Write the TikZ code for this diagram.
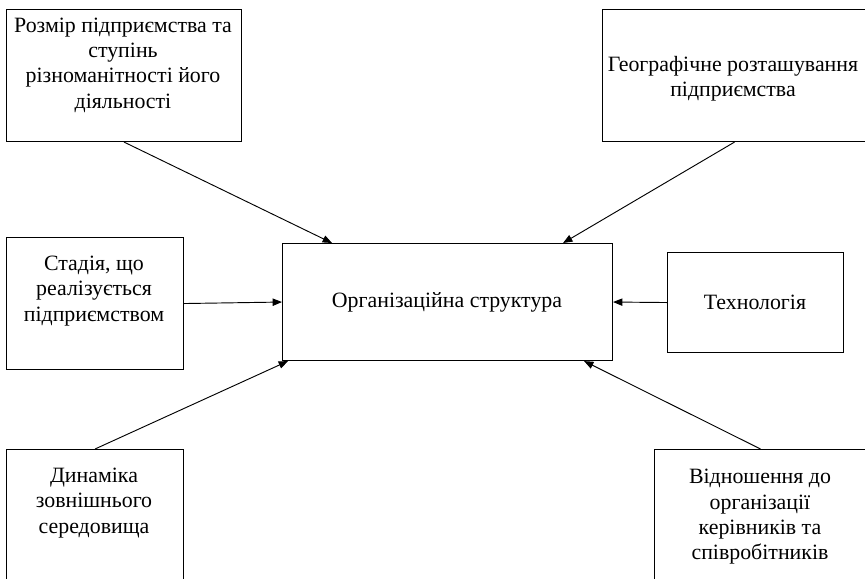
\documentclass[tikz,border=0pt]{standalone}
\usepackage{fontspec}
\setmainfont{Liberation Serif}
\usetikzlibrary{arrows.meta,calc}
\begin{document}
\begin{tikzpicture}[x=0.75pt,y=-0.75pt,
  box/.style={draw=black,line width=0.8pt,rectangle,inner sep=0pt,anchor=north west},
  txt/.style={align=center,font=\fontsize{16.4}{19}\selectfont,inner sep=0pt},
  arr/.style={line width=0.7pt,-{Triangle[length=7pt,width=5.5pt]}}]
\useasboundingbox (0,0) rectangle (865,579);
\fill[white] (0,0) rectangle (865,579);
% boxes
\node[box,minimum width=235*0.75pt,minimum height=132*0.75pt] (tl) at (6,9) {};
\node[box,minimum width=264*0.75pt,minimum height=132*0.75pt] (tr) at (602,9) {};
\node[box,minimum width=177*0.75pt,minimum height=132*0.75pt] (lm) at (6,237) {};
\node[box,minimum width=330*0.75pt,minimum height=117*0.75pt] (cs) at (282,243) {};
\node[box,minimum width=176*0.75pt,minimum height=100*0.75pt] (te) at (667,252) {};
\node[box,minimum width=177*0.75pt,minimum height=140*0.75pt] (bl) at (6,449) {};
\node[box,minimum width=212*0.75pt,minimum height=140*0.75pt] (br) at (654,449) {};
% texts
\node[txt] (tlt) at (123,65) {Розмір підприємства та\\ступінь\\різноманітності його\\діяльності};
\node[txt] (trt) at (733,79) {Географічне розташування\\підприємства};
\node[txt] (lmt) at (94,291) {Стадія, що\\реалізується\\підприємством};
\node[txt] (cst) at (447,302) {Організаційна структура};
\node[txt] (tet) at (755,302) {Технологія};
\node[txt] (blt) at (94,503) {Динаміка\\зовнішнього\\середовища};
\node[txt] (brt) at (760,517) {Відношення до\\організації\\керівників та\\співробітників};
% arrows
\draw[arr] (tl.south) -- ($(cs.north west)+(50,0)$);
\draw[arr] (tr.south) -- ($(cs.north east)+(-50,0)$);
\draw[arr] (lm.east) -- (cs.west);
\draw[arr] (te.west) -- (cs.east);
\draw[arr] (bl.north) -- ($(cs.south west)+(6,0)$);
\draw[arr] (br.north) -- ($(cs.south east)+(-29,0)$);
\end{tikzpicture}
\end{document}
